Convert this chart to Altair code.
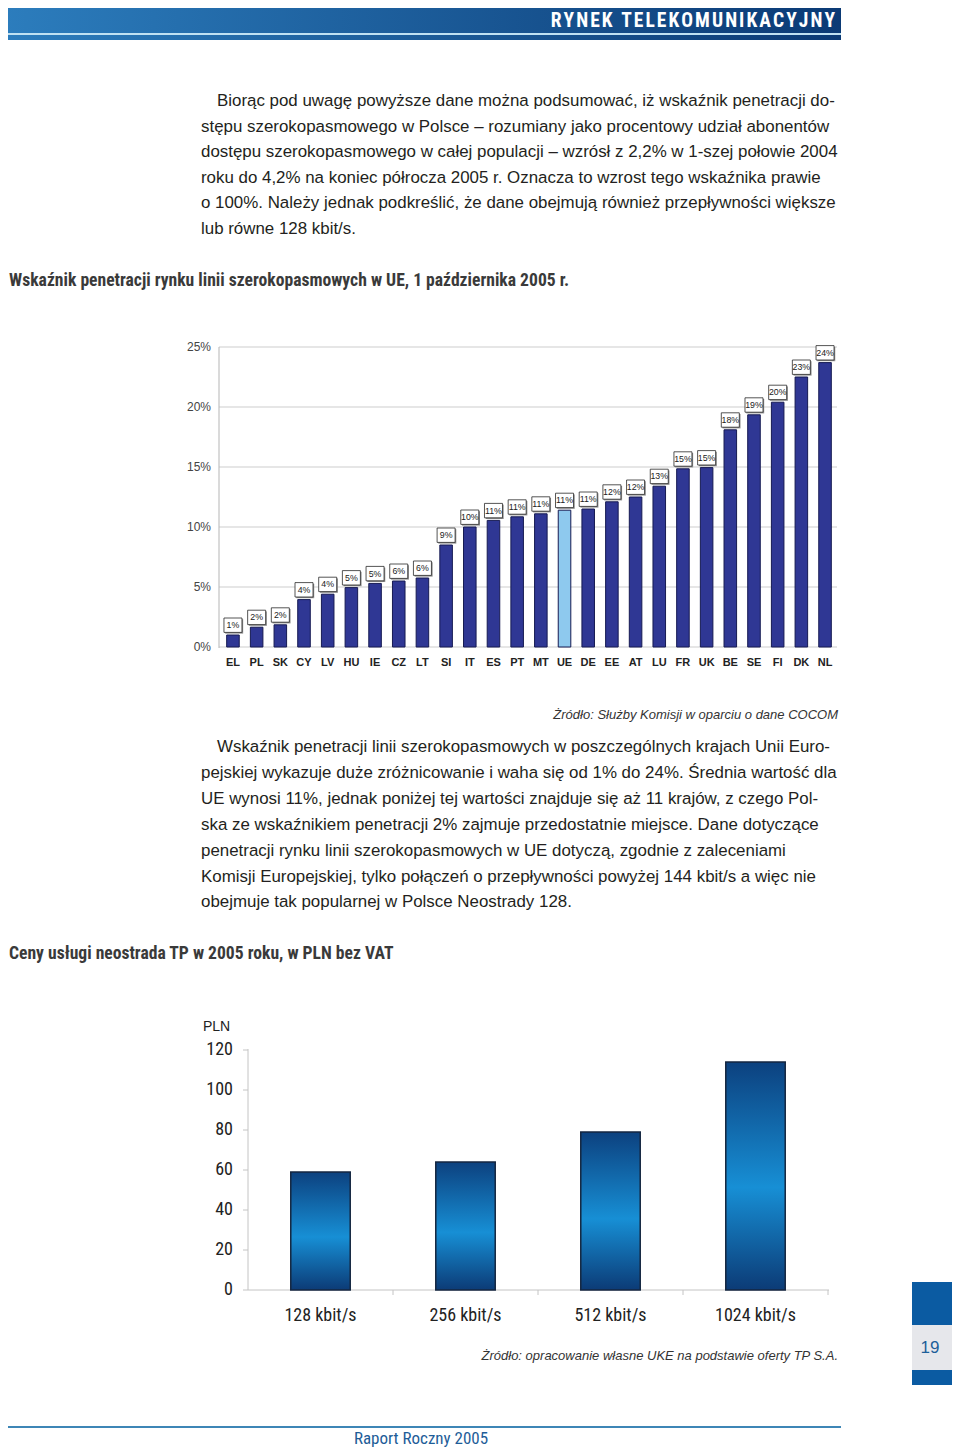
import altair as alt
import pandas as pd

# ---------------- data ----------------
countries = ["EL", "PL", "SK", "CY", "LV", "HU", "IE", "CZ", "LT", "SI", "IT", "ES", "PT",
             "MT", "UE", "DE", "EE", "AT", "LU", "FR", "UK", "BE", "SE", "FI", "DK", "NL"]
penetration = [1.0, 1.65, 1.85, 3.95, 4.4, 4.95, 5.3, 5.5, 5.75, 8.5, 10.0, 10.55, 10.85,
               11.1, 11.4, 11.5, 12.1, 12.5, 13.4, 14.85, 14.95, 18.1, 19.35, 20.4, 22.5, 23.7]
pen_labels = ["1%", "2%", "2%", "4%", "4%", "5%", "5%", "6%", "6%", "9%", "10%", "11%", "11%",
              "11%", "11%", "11%", "12%", "12%", "13%", "15%", "15%", "18%", "19%", "20%", "23%", "24%"]
pct_ticks = [0, 5, 10, 15, 20, 25]
pct_tick_labels = ["0%", "5%", "10%", "15%", "20%", "25%"]

speeds = ["128 kbit/s", "256 kbit/s", "512 kbit/s", "1024 kbit/s"]
prices = [59, 64, 79, 114]
pln_ticks = [0, 20, 40, 60, 80, 100, 120]
pln_tick_labels = ["0", "20", "40", "60", "80", "100", "120"]

header_text = "RYNEK TELEKOMUNIKACYJNY"
para1 = [
    "Biorąc pod uwagę powyższe dane można podsumować, iż wskaźnik penetracji do-",
    "stępu szerokopasmowego w Polsce – rozumiany jako procentowy udział abonentów",
    "dostępu szerokopasmowego w całej populacji – wzrósł z 2,2% w 1-szej połowie 2004",
    "roku do 4,2% na koniec półrocza 2005 r. Oznacza to wzrost tego wskaźnika prawie",
    "o 100%. Należy jednak podkreślić, że dane obejmują również przepływności większe",
    "lub równe 128 kbit/s.",
]
title1 = "Wskaźnik penetracji rynku linii szerokopasmowych w UE, 1 października 2005 r."
source1 = "Żródło: Służby Komisji w oparciu o dane COCOM"
para2 = [
    "Wskaźnik penetracji linii szerokopasmowych w poszczególnych krajach Unii Euro-",
    "pejskiej wykazuje duże zróżnicowanie i waha się od 1% do 24%. Średnia wartość dla",
    "UE wynosi 11%, jednak poniżej tej wartości znajduje się aż 11 krajów, z czego Pol-",
    "ska ze wskaźnikiem penetracji 2% zajmuje przedostatnie miejsce. Dane dotyczące",
    "penetracji rynku linii szerokopasmowych w UE dotyczą, zgodnie z zaleceniami",
    "Komisji Europejskiej, tylko połączeń o przepływności powyżej 144 kbit/s a więc nie",
    "obejmuje tak popularnej w Polsce Neostrady 128.",
]
title2 = "Ceny usługi neostrada TP w 2005 roku, w PLN  bez VAT"
source2 = "Żródło: opracowanie własne UKE na podstawie oferty TP S.A."
unit2 = "PLN"
page_no = "19"
footer = "Raport Roczny 2005"

# ---------------- helpers ----------------
OFF = 8


def P(v):
    return v - OFF


BODY = "Liberation Sans, Arial, sans-serif"
NARROW = "Roboto Condensed, Liberation Sans Narrow, Roboto, sans-serif"
one = pd.DataFrame({"k": [0]})


def text_at(s, x, y, size=16, align="left", font=BODY, weight="normal", style="normal", color="#231f20"):
    return alt.Chart(one).mark_text(
        text=s, align=align, baseline="middle", font=font, fontSize=size,
        fontWeight=weight, fontStyle=style, color=color
    ).encode(x=alt.value(P(x)), y=alt.value(P(y)))


def rect_at(x1, x2, y1, y2, fill):
    return alt.Chart(one).mark_rect(fill=fill, stroke=None).encode(
        x=alt.value(P(x1)), x2=alt.value(P(x2)), y=alt.value(P(y1)), y2=alt.value(P(y2)))


def hgrad(c1, c2):
    return alt.LinearGradient(gradient="linear", x1=0, x2=1, y1=0, y2=0,
                              stops=[alt.GradientStop(offset=0, color=c1),
                                     alt.GradientStop(offset=1, color=c2)])


layers = []
# header (letters spaced with hair spaces, as in the printed header)
layers.append(rect_at(3, 841, 3, 33, hgrad("#2c7dbd", "#0b3a75")))
layers.append(rect_at(3, 841, 33, 35, "#bfe1f2"))
layers.append(rect_at(3, 841, 35, 40, hgrad("#2c7dbd", "#0b3a75")))
layers.append(text_at("\u200a".join(header_text), 835, 21, size=19.5, align="right", font=NARROW,
                      weight="bold", color="white"))

# paragraph 1
for i, line in enumerate(para1):
    layers.append(text_at(line, 217 if i == 0 else 201, 101 + i * 25.6, size=16.9))
layers.append(text_at(title1, 9, 281, size=17.6, font=NARROW, weight="bold", color="#3a3a3a"))
layers.append(text_at(source1, 838, 715, size=13, align="right", style="italic", color="#333333"))
for i, line in enumerate(para2):
    layers.append(text_at(line, 217 if i == 0 else 201, 747 + i * 25.9, size=16.9))
layers.append(text_at(title2, 9, 954, size=17.6, font=NARROW, weight="bold", color="#3a3a3a"))
layers.append(text_at(source2, 838, 1356, size=13, align="right", style="italic", color="#333333"))

# page number box
layers.append(rect_at(912, 960, 1282, 1325, "#0b5ba2"))
layers.append(rect_at(912, 960, 1325, 1370, "#e6e7eb"))
layers.append(rect_at(912, 960, 1370, 1385, "#0b5ba2"))
layers.append(text_at(page_no, 930, 1348, size=17, align="center", color="#1d5f99"))

# footer
layers.append(rect_at(3, 841, 1426, 1428, "#3d86b6"))
layers.append(text_at(footer, 421, 1438.5, size=17, align="center", font=NARROW, color="#1e5d98"))

# ---------------- chart 1 ----------------
df1 = pd.DataFrame({"country": countries, "value": penetration, "label": pen_labels})
t1 = pd.DataFrame({"tick": pct_ticks, "tl": pct_tick_labels})
x1s = alt.Scale(domain=countries, range=[P(221), P(837)], paddingInner=0.47, paddingOuter=0.24)
y1s = alt.Scale(domain=[0, 25], range=[P(647), P(347)], nice=False, zero=True)
X1 = alt.X("country:N", scale=x1s, axis=None)
Y1 = alt.Y("value:Q", scale=y1s, axis=None)
YT1 = alt.Y("tick:Q", scale=y1s, axis=None)
BOX = "M-1,-0.8H1V0.8H-1Z"

c1_grid = alt.Chart(t1).mark_rule(color="#cdcdcd", strokeWidth=1).encode(
    y=YT1, x=alt.value(P(219)), x2=alt.value(P(837)))
c1_axis = alt.Chart(one).mark_rule(color="#b5b5b5", strokeWidth=1).encode(
    x=alt.value(P(219)), y=alt.value(P(347)), y2=alt.value(P(648)))
c1_ticklabels = alt.Chart(t1).mark_text(align="right", baseline="middle", font=BODY, fontSize=12,
                                        color="#444444").encode(y=YT1, x=alt.value(P(211)), text="tl:N")
c1_bars = alt.Chart(df1).mark_bar(stroke="#161a52", strokeWidth=1).encode(
    x=X1, y=Y1,
    color=alt.condition(alt.datum.country == "UE", alt.value("#8ec9ee"), alt.value("#2f3794")))
c1_shadow = alt.Chart(df1).mark_point(shape=BOX, size=324, filled=True, color="#8c8c8c", opacity=1,
                                      xOffset=1.2, yOffset=-8.6).encode(x=X1, y=Y1)
c1_box = alt.Chart(df1).mark_point(shape=BOX, size=324, filled=True, fill="white", stroke="#2a2a2a",
                                   strokeWidth=0.8, opacity=1, yOffset=-9.8).encode(x=X1, y=Y1)
c1_lab = alt.Chart(df1).mark_text(baseline="middle", font=BODY, fontSize=8.8, color="#222222",
                                  dy=-9.8).encode(x=X1, y=Y1, text="label:N")
c1_cat = alt.Chart(df1).mark_text(baseline="middle", font=BODY, fontSize=11, fontWeight="bold",
                                  color="#222222").encode(x=X1, y=alt.value(P(663)), text="country:N")
chart1 = alt.layer(c1_grid, c1_axis, c1_ticklabels, c1_bars, c1_shadow, c1_box, c1_lab, c1_cat)

# ---------------- chart 2 ----------------
df2 = pd.DataFrame({"speed": speeds, "pln": prices})
t2 = pd.DataFrame({"tick": pln_ticks, "tl": pln_tick_labels})
x2s = alt.Scale(domain=speeds, range=[P(248), P(828)], paddingInner=0.59, paddingOuter=0.295)
y2s = alt.Scale(domain=[0, 120], range=[P(1290), P(1050)], nice=False, zero=True)
X2 = alt.X("speed:N", scale=x2s, axis=None)
Y2 = alt.Y("pln:Q", scale=y2s, axis=None)
YT2 = alt.Y("tick:Q", scale=y2s, axis=None)
bar_grad = alt.LinearGradient(gradient="linear", x1=0, x2=0, y1=0, y2=1, stops=[
    alt.GradientStop(offset=0, color="#0c417f"),
    alt.GradientStop(offset=0.55, color="#178fd5"),
    alt.GradientStop(offset=1, color="#0c3b76")])

c2_yaxis = alt.Chart(one).mark_rule(color="#c4c4c4", strokeWidth=1).encode(
    x=alt.value(P(248)), y=alt.value(P(1049)), y2=alt.value(P(1290)))
c2_xaxis = alt.Chart(one).mark_rule(color="#c4c4c4", strokeWidth=1).encode(
    x=alt.value(P(248)), x2=alt.value(P(829)), y=alt.value(P(1290)))
c2_yticks = alt.Chart(t2).mark_rule(color="#c4c4c4", strokeWidth=1).encode(
    y=YT2, x=alt.value(P(243)), x2=alt.value(P(248)))
c2_xticks = alt.Chart(df2).mark_rule(color="#c4c4c4", strokeWidth=1, xOffset=72.5).encode(
    x=alt.X("speed:N", scale=x2s, axis=None, bandPosition=0.5),
    y=alt.value(P(1290)), y2=alt.value(P(1295)))
c2_ticklabels = alt.Chart(t2).mark_text(align="right", baseline="middle", font=NARROW, fontSize=18,
                                        color="#222222").encode(y=YT2, x=alt.value(P(233)), text="tl:N")
c2_bars = alt.Chart(df2).mark_bar(fill=bar_grad, stroke="#142640", strokeWidth=1.5).encode(x=X2, y=Y2)
c2_cat = alt.Chart(df2).mark_text(baseline="middle", font=NARROW, fontSize=18,
                                  color="#222222").encode(x=X2, y=alt.value(P(1316)), text="speed:N")
c2_unit = text_at(unit2, 203, 1027, size=14, color="#222222")
chart2 = alt.layer(c2_yaxis, c2_xaxis, c2_yticks, c2_xticks, c2_ticklabels, c2_bars, c2_cat, c2_unit)

chart = alt.layer(*layers, chart1, chart2).resolve_scale(
    x="independent", y="independent"
).properties(
    width=944, height=1439, padding=0,
    autosize=alt.AutoSizeParams(type="none"), background="white"
).configure_view(stroke=None)

chart.save("out.html", embed_options={"renderer": "svg", "actions": False})
